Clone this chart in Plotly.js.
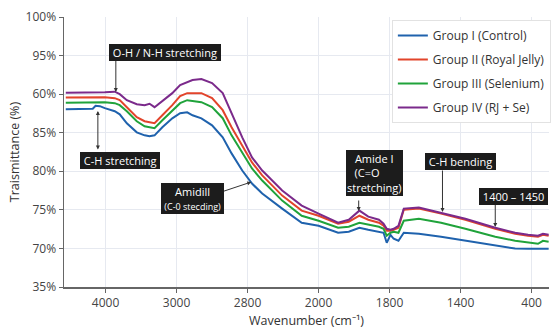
<!DOCTYPE html>
<html>
<head>
<meta charset="utf-8">
<script src="https://cdn.plot.ly/plotly-3.0.1.min.js"></script>
<style>html,body{margin:0;padding:0;background:#fff;}#chart{width:551px;height:329px;}</style>
</head>
<body>
<div id="chart"></div>
<script>
// Tick definitions (non-linear axes as drawn in the reference)
const xTickWavenumbers = [4000, 3000, 2800, 2000, 1800, 1400, 400];
const xTickLabels = ['4000', '3000', '2800', '2000', '1800', '1400', '400'];
const yTickPercents = [35, 70, 75, 80, 85, 90, 95, 100];
const yTickLabels = ['35%', '70%', '75%', '80%', '85%', '60%', '95%', '100%'];

// Wavenumbers (cm-1) of sampled points
const wavenumber = [4560,4360,4180,4140,4080,4010,3870,3800,3700,3560,3450,3380,3310,3200,3060,2990,2970,2955,2930,2900,2870,2845,2815,2750,2635,2410,2190,2000,1945,1915,1885,1860,1830,1817,1808,1795,1777,1750,1720,1635,1510,1333,912,632,450,310,240,160];

// Transmittance (%) per group
const groupI_control = [88.05,88.05,88.11,88.50,88.44,88.18,87.79,87.39,86.22,85.05,84.66,84.53,84.66,85.70,86.87,87.52,87.65,87.26,86.87,85.96,84.40,82.32,80.10,78.41,77.11,75.16,73.33,72.94,72.03,72.16,72.68,72.42,72.16,72.03,70.73,71.77,71.25,70.99,72.03,71.90,71.51,70.99,70.34,69.9,69.6,69.4,69.7,69.6];
const groupII_royalJelly = [89.57,89.61,89.61,89.61,89.61,89.61,89.48,89.22,88.31,87.01,86.49,86.36,86.23,87.27,88.57,89.74,90.13,90.13,90.13,89.48,87.92,85.71,83.36,81.15,79.46,76.85,74.90,74.24,73.20,73.46,74.24,73.72,73.33,72.94,72.29,72.29,72.42,72.68,75.03,75.16,74.51,73.72,72.55,71.90,71.64,71.51,71.77,71.64];
const groupIII_selenium = [88.87,88.89,88.89,88.89,88.96,88.96,88.83,88.57,87.79,86.49,85.84,85.71,85.58,86.61,87.92,88.83,89.22,89.09,88.96,88.31,86.88,84.66,82.32,80.36,78.80,76.20,74.24,73.59,72.68,72.81,73.33,73.07,72.81,72.55,71.64,72.03,72.16,72.03,73.59,73.85,73.33,72.55,71.51,70.99,70.73,70.60,70.99,70.86];
const groupIV_rjSe = [90.17,90.19,90.19,90.19,90.19,90.26,90.32,90.0,89.22,88.70,88.57,88.75,88.31,89.09,90.13,91.17,91.56,91.82,91.95,91.43,90.13,87.53,84.40,81.80,80.10,77.50,75.55,74.51,73.33,73.72,74.90,74.12,73.72,73.20,72.55,72.42,72.55,72.94,75.16,75.29,74.64,73.85,72.68,72.03,71.77,71.64,71.90,71.77];

const seriesNames = ['Group I (Control)', 'Group II (Royal Jelly)', 'Group III (Selenium)', 'Group IV (RJ + Se)'];
const seriesValues = [groupI_control, groupII_royalJelly, groupIII_selenium, groupIV_rjSe];
const seriesColors = ['#1f62ad', '#e2442b', '#20a33b', '#7b2a8b'];

// Piecewise scale: value -> tick index space
function piecewise(v, ticks, outerStep) {
  const n = ticks.length;
  const asc = ticks[1] > ticks[0];
  const before = asc ? v < ticks[0] : v > ticks[0];
  const after = asc ? v > ticks[n-1] : v < ticks[n-1];
  if (before) return -Math.abs(v - ticks[0]) / outerStep;
  if (after) return (n-1) + Math.abs(v - ticks[n-1]) / outerStep;
  for (let i = 0; i < n-1; i++) {
    const a = ticks[i], b = ticks[i+1];
    if ((v - a) * (v - b) <= 0) return i + (v - a) / (b - a);
  }
  return n-1;
}
const xs = w => piecewise(w, xTickWavenumbers, 1000);
const ys = p => piecewise(p, yTickPercents, 35);

const traces = seriesValues.map((vals, i) => ({
  type: 'scatter', mode: 'lines',
  x: wavenumber.map(xs), y: vals.map(ys),
  name: seriesNames[i], legendgroup: 'g' + i,
  line: {color: seriesColors[i], width: 2},
  hoverinfo: 'skip'
}));

const boxFont = {family: 'Open Sans, sans-serif', size: 11, color: '#ffffff'};
const sp = '\u00a0';
function box(text, x, y, extra) {
  return Object.assign({text: text, xref: 'paper', yref: 'paper', x: x, y: y, xanchor: 'center', yanchor: 'middle',
    showarrow: false, bgcolor: '#1c1c1c', borderwidth: 0, borderpad: 1, font: boxFont}, extra || {});
}
function arrow(w, p, ax, ay, both) {
  return {text: '', x: xs(w), y: ys(p), xref: 'x', yref: 'y', ax: ax, ay: ay,
    showarrow: true, arrowhead: 2, arrowsize: 0.8, arrowwidth: 1, arrowcolor: '#333',
    arrowside: both ? 'end+start' : 'end', startarrowhead: 2, startarrowsize: 0.8, standoff: 0, startstandoff: 0};
}

const annotations = [
  arrow(3855, 90.28, 0, -33),
  arrow(4108, 87.82, 0, 40, true),
  arrow(2758, 78.61, -30, 10),
  arrow(1887, 74.85, 0, -12),
  arrow(1502, 74.72, 0, -43),
  arrow(912, 72.78, 0, -24),
  box(sp + 'O-H / N-H stretching' + sp, 0.2074, 0.8667),
  box(sp + 'C-H stretching' + sp, 0.115, 0.470),
  box(sp + 'Amidill' + sp + '<br><span style="font-size:9px">' + sp + '(C-0 stecding)' + sp + '</span>', 0.265, 0.326),
  box('Amide I<br>(C=O' + sp + sp + sp + sp + sp + '<br>stretching)', 0.641, 0.422),
  box(sp + 'C-H bending' + sp, 0.817, 0.463),
  box(sp + '1400 – 1450' + sp, 0.926, 0.337)
];

const axisFont = {family: 'Open Sans, sans-serif', size: 12, color: '#444'};
const layout = {
  width: 551, height: 329,
  margin: {l: 64, r: 0, t: 17, b: 42, pad: 0},
  paper_bgcolor: '#fff', plot_bgcolor: '#fff',
  font: {family: 'Open Sans, sans-serif', color: '#333'},
  showlegend: true,
  legend: {x: 0.676, y: 0.989, xanchor: 'left', yanchor: 'top', bgcolor: '#fff',
    bordercolor: '#e2e2e2', borderwidth: 1, font: {family: 'Open Sans, sans-serif', size: 12, color: '#333'},
    tracegroupgap: 5},
  xaxis: {
    range: [xs(4585), xs(155)], tickvals: xTickWavenumbers.map(xs), ticktext: xTickLabels,
    showgrid: true, gridcolor: '#e6e9f0', gridwidth: 1, zeroline: false,
    showline: true, linecolor: '#666', linewidth: 1.5, ticks: 'outside', ticklen: 4, tickcolor: '#666',
    tickfont: axisFont, title: {text: 'Wavenumber (cm⁻¹)', font: {family: 'Open Sans, sans-serif', size: 12.5, color: '#333'}, standoff: 6}
  },
  yaxis: {
    range: [0, 7], tickvals: yTickPercents.map(ys), ticktext: yTickLabels,
    showgrid: true, gridcolor: '#e6e9f0', gridwidth: 1, zeroline: false,
    showline: true, linecolor: '#666', linewidth: 1.5, ticks: 'outside', ticklen: 4, tickcolor: '#666',
    tickfont: axisFont, title: {text: 'Traismittance (%)', font: {family: 'Open Sans, sans-serif', size: 12.5, color: '#333'}, standoff: 3}
  },
  annotations: annotations
};

Plotly.newPlot('chart', traces, layout, {staticPlot: true, displayModeBar: false});
</script>
</body>
</html>
